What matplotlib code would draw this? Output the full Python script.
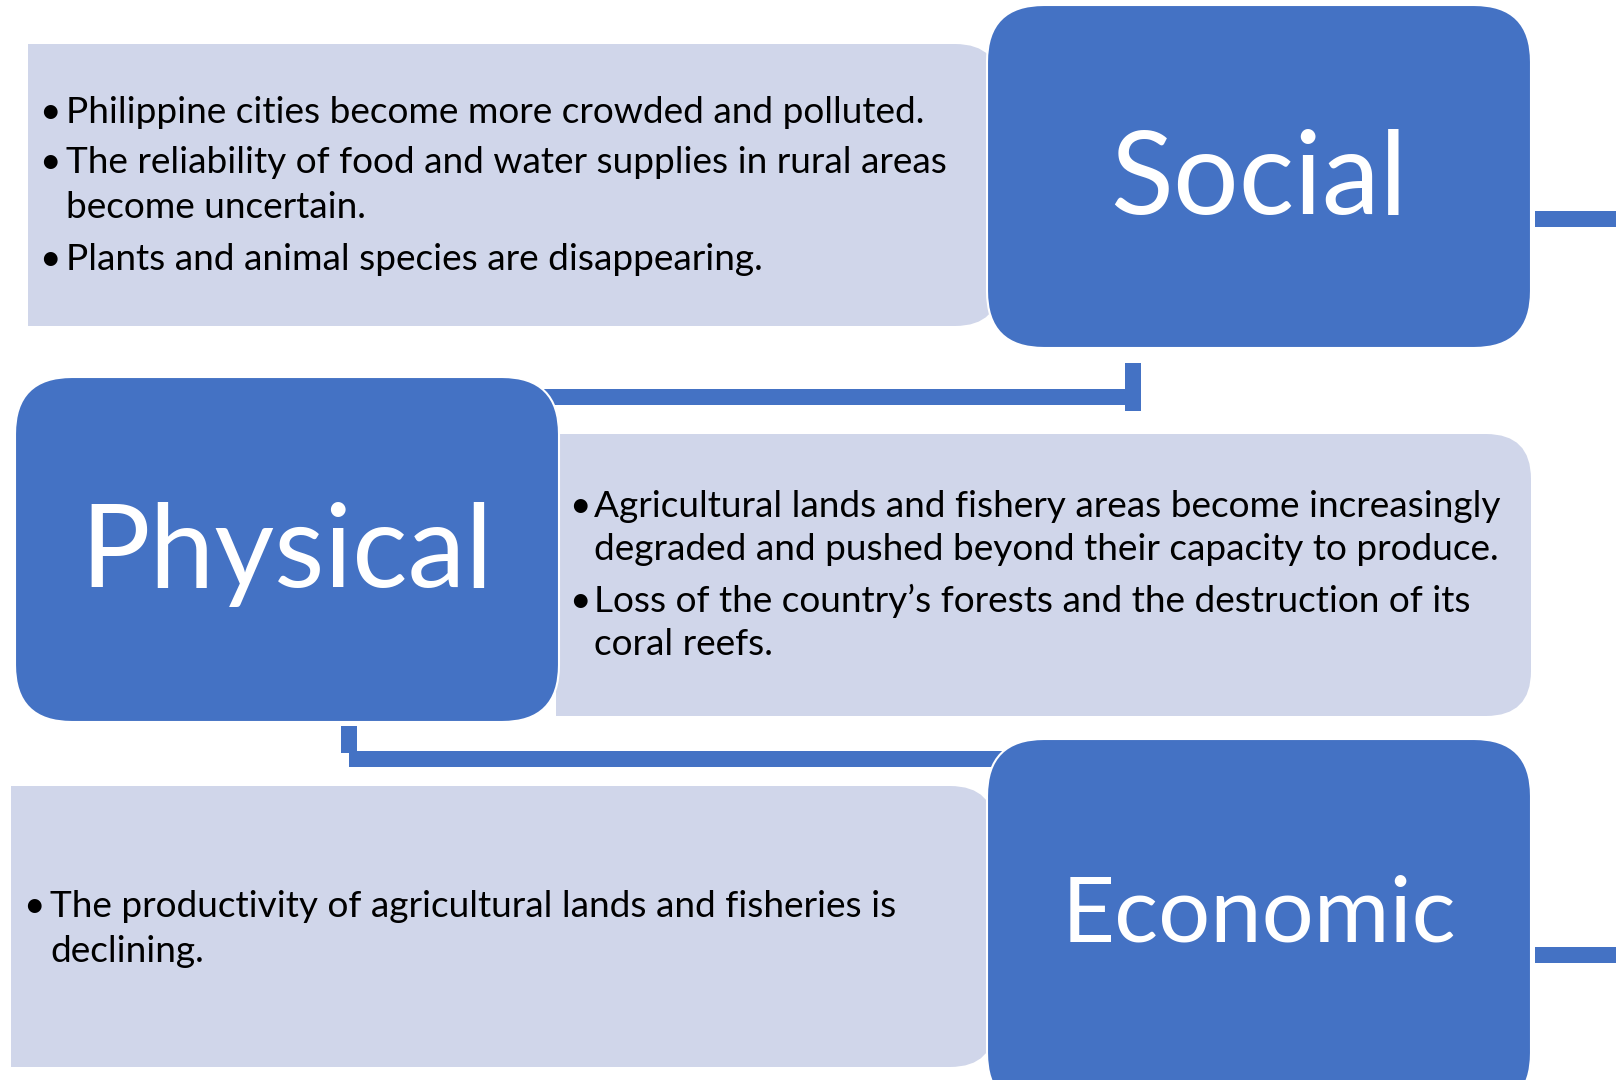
import matplotlib.pyplot as plt
from matplotlib.patches import FancyBboxPatch, Rectangle

W, H = 1616, 1080
DARK = "#4472C4"
LIGHT = "#D0D6EA"

plt.rcParams['font.family'] = ['Lato', 'DejaVu Sans']

# labels of the three dark boxes
categories = ["Social", "Physical", "Economic"]

# bullet texts, one list per box; "" marks a wrapped continuation line
social_lines = [
    "Philippine cities become more crowded and polluted.",
    "The reliability of food and water supplies in rural areas",
    "",
    "Plants and animal species are disappearing.",
]
social_wrap = ["", "", "become uncertain.", ""]

physical_lines = [
    "Agricultural lands and fishery areas become increasingly",
    "",
    "Loss of the country\u2019s forests and the destruction of its",
    "",
]
physical_wrap = ["", "degraded and pushed beyond their capacity to produce.", "", "coral reefs."]

economic_lines = [
    "The productivity of agricultural lands and fisheries is",
    "",
]
economic_wrap = ["", "declining."]


def pt(pixels):
    # pixel size -> points at dpi 100
    return pixels * 72 / 100


fig = plt.figure(figsize=(W / 100, H / 100), dpi=100)
ax = fig.add_axes([0, 0, 1, 1])
ax.set_xlim(0, W)
ax.set_ylim(H, 0)
ax.axis("off")


def light_box(x0, y0, x1, y1, r=45):
    # rounded on the right side only
    ax.add_patch(FancyBboxPatch((x0, y0), x1 - x0, y1 - y0,
                                boxstyle=f"round,pad=0,rounding_size={r}",
                                fc=LIGHT, ec="none", zorder=1))
    ax.add_patch(Rectangle((x0, y0), (x1 - x0) / 2, y1 - y0,
                           fc=LIGHT, ec="none", zorder=1))


def dark_box(x0, y0, x1, y1, label, baseline, size, r=57):
    ax.add_patch(FancyBboxPatch((x0, y0), x1 - x0, y1 - y0,
                                boxstyle=f"round,pad=0,rounding_size={r}",
                                fc=DARK, ec="white", lw=1.5, zorder=4))
    ax.text((x0 + x1) / 2, baseline, label, color="white", fontsize=pt(size),
            ha="center", va="baseline", zorder=5)


def bar(x0, y0, x1, y1, z=2):
    ax.add_patch(Rectangle((x0, y0), x1 - x0, y1 - y0, fc=DARK, ec="none", zorder=z))


def bullets(lines, wraps, bx, tx, baselines, size=37):
    for line, wrap, y in zip(lines, wraps, baselines):
        if line:
            ax.text(bx, y, "\u2022", fontsize=pt(size), ha="left", va="baseline", zorder=3)
            ax.text(tx, y, line, fontsize=pt(size), ha="left", va="baseline", zorder=3)
        else:
            ax.text(tx, y, wrap, fontsize=pt(size), ha="left", va="baseline", zorder=3)


# light text panels
light_box(28, 44, 1000, 326)
light_box(556, 434, 1531, 716)
light_box(11, 786, 995, 1067)

# connectors
bar(1535, 211, W, 227)
bar(500, 389, 1141, 405)
bar(1125, 363, 1141, 411)
bar(341, 726, 357, 753)
bar(349, 751, 1020, 767)
bar(1535, 947, W, 963)

# dark category boxes
dark_box(987, 5, 1531, 348, categories[0], 214, 116)
dark_box(15, 377, 559, 722, categories[1], 587, 116)
dark_box(987, 739, 1531, 1110, categories[2], 941, 92)

bullets(social_lines, social_wrap, 39, 66, [123, 173, 218, 270])
bullets(physical_lines, physical_wrap, 569, 594, [517, 560, 612, 655])
bullets(economic_lines, economic_wrap, 23, 50, [917, 962])

fig.savefig("out.png", dpi=100)
